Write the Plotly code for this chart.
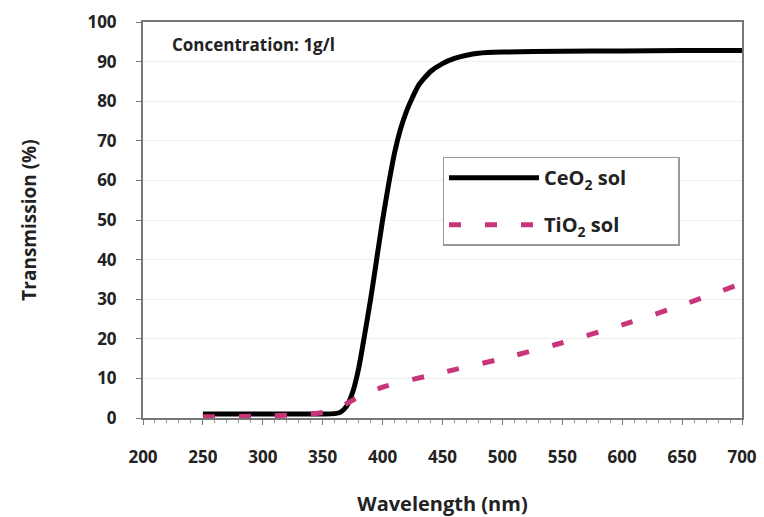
import plotly.graph_objects as go

# CeO2 sol transmission (%) vs wavelength (nm)
ceo2_wl = [250, 300, 350, 360, 365, 370, 375, 380, 385, 390, 395, 400, 405, 410, 415, 420, 425,
           430, 440, 450, 460, 470, 480, 500, 550, 600, 650, 700]
ceo2_t = [1.0, 1.0, 1.0, 1.1, 1.5, 3.0, 6.5, 12.5, 21.0, 30.0, 40.0, 50.0, 59.0, 67.0, 73.0, 77.5,
          81.0, 84.0, 87.5, 89.5, 90.8, 91.6, 92.1, 92.4, 92.6, 92.7, 92.8, 92.8]

# TiO2 sol transmission (%) vs wavelength (nm)
tio2_wl = [250, 300, 340, 360, 375, 400, 450, 500, 550, 600, 650, 700]
tio2_t = [0.3, 0.5, 1.0, 2.0, 4.5, 7.8, 11.5, 15.0, 19.0, 23.5, 28.5, 34.0]

x_ticks = [200, 250, 300, 350, 400, 450, 500, 550, 600, 650, 700]
y_ticks = [0, 10, 20, 30, 40, 50, 60, 70, 80, 90, 100]

FONT = "Open Sans"
PAD = "&nbsp;" * 9
fig = go.Figure()
fig.add_trace(go.Scatter(x=ceo2_wl, y=ceo2_t, mode="lines", name="CeO<sub>2</sub> sol" + PAD, legendgroup="a",
                         line=dict(color="black", width=5, shape="spline", smoothing=0.6)))
fig.add_trace(go.Scatter(x=tio2_wl, y=tio2_t, mode="lines", name="TiO<sub>2</sub> sol" + PAD, legendgroup="b",
                         line=dict(color="#c8357a", width=5, dash="12px,24px", shape="spline", smoothing=0.5)))

fig.add_annotation(text="<b>Concentration: 1g/l</b>", xref="paper", yref="paper", x=0.045, y=0.978,
                   xanchor="left", yanchor="top", showarrow=False,
                   font=dict(family=FONT, size=17, color="#222"))

fig.update_layout(
    width=764, height=517,
    margin=dict(l=143, r=22, t=22, b=99, autoexpand=False),
    paper_bgcolor="white", plot_bgcolor="white",
    font=dict(family=FONT, size=16, color="#222"),
    showlegend=True,
    legend=dict(x=0.5, y=0.66, xanchor="left", yanchor="top",
                bordercolor="#999", borderwidth=1.5, bgcolor="white",
                font=dict(family=FONT, size=20, color="#222", weight="bold"),
                itemwidth=90, tracegroupgap=18, traceorder="grouped",
                ),
    xaxis=dict(range=[200, 700], tickvals=x_ticks, ticktext=[str(v) for v in x_ticks],
               showline=True, linecolor="#777", linewidth=2, mirror=True, automargin=False,
               ticks="outside", ticklen=5, tickcolor="#777", ticklabelstandoff=18,
               minor=dict(dtick=10, ticks="outside", ticklen=3, tickcolor="#999"),
               showgrid=False, zeroline=False,
               tickfont=dict(family=FONT, size=17, weight="bold"),
               title=dict(text="<b>Wavelength (nm)</b>", font=dict(family=FONT, size=20), standoff=32)),
    yaxis=dict(range=[0, 100], tickvals=y_ticks, ticktext=[str(v) for v in y_ticks],
               showline=True, linecolor="#777", linewidth=2, mirror=True, automargin=False,
               ticks="outside", ticklen=5, tickcolor="#777", ticklabelstandoff=16,
               showgrid=True, gridcolor="#eeeeee", gridwidth=1, zeroline=False,
               tickfont=dict(family=FONT, size=17, weight="bold"),
               title=dict(text="<b>Transmission (%)</b>", font=dict(family=FONT, size=19), standoff=46)),
)

fig.write_html("out.html")
